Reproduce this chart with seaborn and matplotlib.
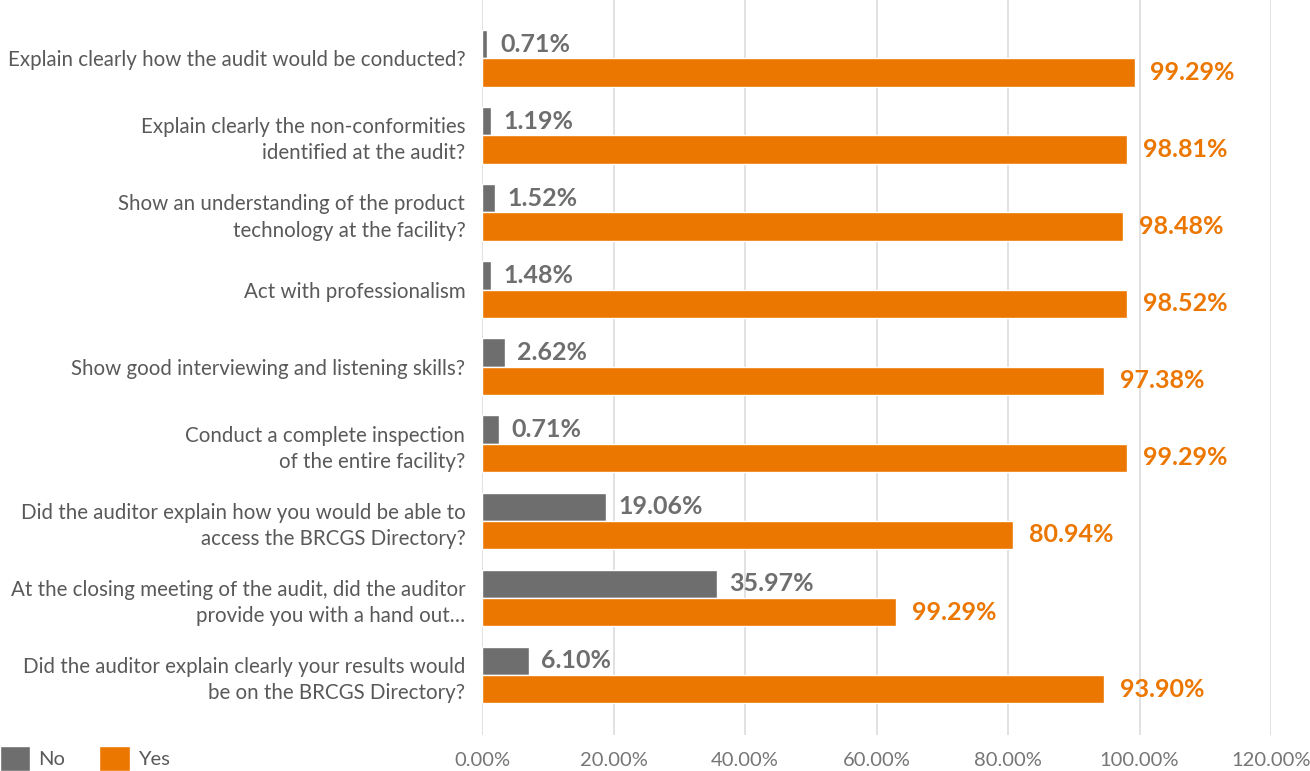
import matplotlib
matplotlib.use("Agg")
import pandas as pd
import seaborn as sns
import matplotlib.pyplot as plt
from matplotlib.patches import Patch

questions = [
    "Explain clearly how the audit would be conducted?",
    "Explain clearly the non-conformities\nidentified at the audit?",
    "Show an understanding of the product\ntechnology at the facility?",
    "Act with professionalism",
    "Show good interviewing and listening skills?",
    "Conduct a complete inspection\nof the entire facility?",
    "Did the auditor explain how you would be able to\naccess the BRCGS Directory?",
    "At the closing meeting of the audit, did the auditor\nprovide you with a hand out\u2026",
    "Did the auditor explain clearly your results would\nbe on the BRCGS Directory?",
]
# bar lengths as drawn in the picture (%)
no_bar = [0.82, 1.32, 1.93, 1.32, 3.45, 2.54, 18.8, 35.7, 7.1]
yes_bar = [99.24, 98.17, 97.56, 98.17, 94.67, 98.17, 80.8, 63.0, 94.67]
# data label texts
no_labels = ["0.71%", "1.19%", "1.52%", "1.48%", "2.62%", "0.71%", "19.06%", "35.97%", "6.10%"]
yes_labels = ["99.29%", "98.81%", "98.48%", "98.52%", "97.38%", "99.29%", "80.94%", "99.29%", "93.90%"]
x_ticks = [0, 20, 40, 60, 80, 100, 120]

GREY = "#6e6e6e"
ORANGE = "#ec7700"

df = pd.DataFrame({
    "question": questions * 2,
    "value": no_bar + yes_bar,
    "answer": ["No"] * len(questions) + ["Yes"] * len(questions),
})

sns.set_style("white")
plt.rcParams["font.family"] = ["Lato", "DejaVu Sans"]

fig = plt.figure(figsize=(13.1, 7.71), dpi=100)
ax = fig.add_axes([482 / 1310, 1 - 735 / 771, (1271 - 482) / 1310, 735 / 771])

sns.barplot(data=df, x="value", y="question", hue="answer", hue_order=["No", "Yes"],
            palette=[GREY, ORANGE], orient="h", width=0.734, errorbar=None,
            legend=False, ax=ax, saturation=1)

ax.bar_label(ax.containers[0], labels=no_labels, padding=9, color=GREY,
             fontsize=18, fontweight="bold")
ax.bar_label(ax.containers[1], labels=yes_labels, padding=11, color=ORANGE,
             fontsize=18, fontweight="bold")

ax.set_xlim(0, 120)
ax.set_ylim(8 + 60 / 77.1, -58.3 / 77.1)
ax.set_xticks(x_ticks)
ax.set_xticklabels([f"{t:.2f}%" for t in x_ticks])
ax.xaxis.grid(True, color="#d9d9d9", linewidth=1.1)
ax.yaxis.grid(False)
ax.set_axisbelow(True)
for s in ax.spines.values():
    s.set_visible(False)
ax.set_xlabel("")
ax.set_ylabel("")
ax.tick_params(axis="x", length=0, pad=12, labelsize=14.5, labelcolor="#767676")
ax.tick_params(axis="y", length=0, pad=12, labelsize=14.8, labelcolor="#595959")
for lbl in ax.get_yticklabels():
    lbl.set_horizontalalignment("right")
    lbl.set_multialignment("right")
    lbl.set_linespacing(1.38)

handles = [Patch(facecolor=GREY, label="No"), Patch(facecolor=ORANGE, label="Yes")]
fig.legend(handles=handles, loc="lower left", bbox_to_anchor=(0, 0), ncol=2,
           frameon=False, fontsize=14.5, labelcolor="#595959",
           handlelength=1.5, handleheight=1.5, handletextpad=0.4,
           columnspacing=1.7, borderpad=0, borderaxespad=0)

fig.savefig("out.png", dpi=100)
